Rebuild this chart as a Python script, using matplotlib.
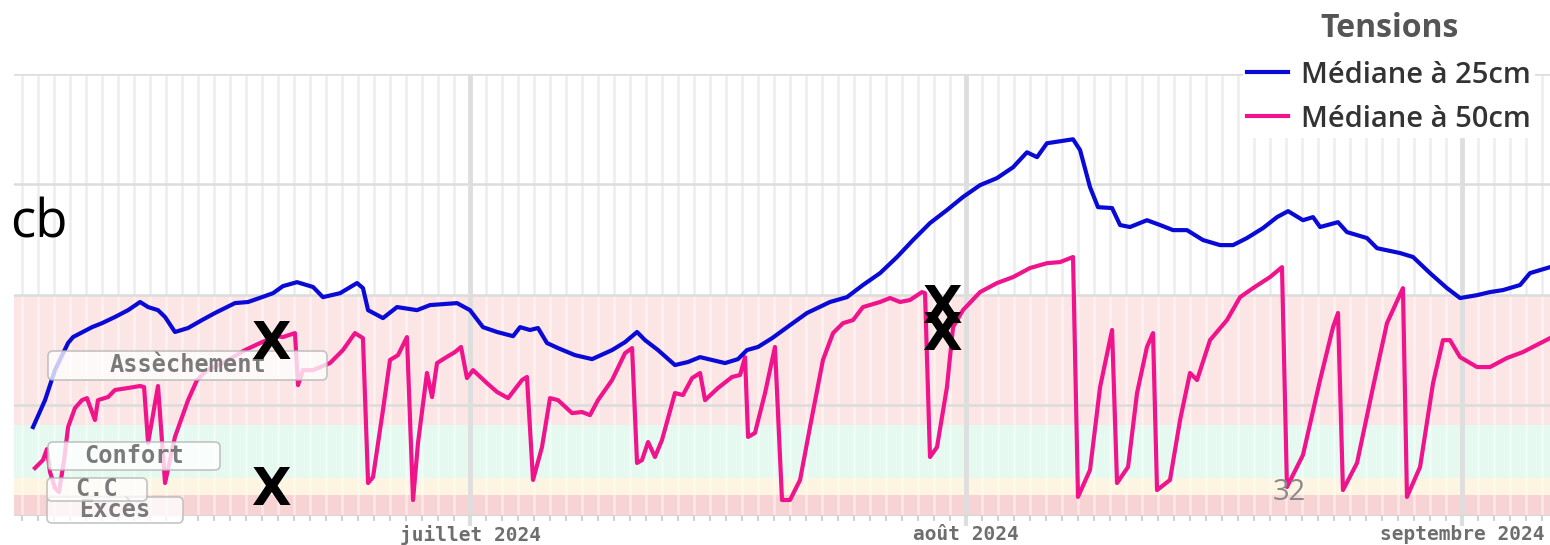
import pandas as pd
import matplotlib.pyplot as plt
import matplotlib.dates as mdates
from matplotlib.patches import FancyBboxPatch
from matplotlib.transforms import IdentityTransform

START = pd.Timestamp("2024-06-01")

# days since 1 June 2024 / tension (cb)
DAYS_25 = [2.69, 3.44, 4.06, 4.88, 5.19, 6.38, 7.0, 7.81, 8.63, 9.38,
           9.88, 10.5, 10.94, 11.56, 12.38, 13.25, 14.06, 15.31, 16.13, 17.0,
           17.69, 18.31, 19.19, 20.19, 20.81, 21.88, 22.94, 23.31, 23.63, 24.56,
           25.44, 26.69, 27.5, 29.19, 30.0, 30.81, 31.69, 32.69, 33.13, 33.75,
           34.25, 34.81, 35.5, 36.56, 37.63, 38.88, 39.69, 40.44, 40.94, 41.75,
           42.81, 43.63, 44.38, 45.13, 45.94, 46.75, 47.31, 48.0, 48.88, 50.0,
           51.06, 52.5, 53.56, 54.56, 55.63, 56.69, 57.69, 58.75, 59.81, 60.81,
           61.88, 62.94, 63.94, 64.81, 65.44, 66.06, 66.88, 67.69, 68.13, 68.75,
           69.25, 70.13, 70.63, 71.25, 72.31, 73.13, 73.94, 74.81, 75.81, 76.88,
           77.69, 78.56, 79.56, 80.44, 81.13, 82.06, 82.69, 83.13, 84.25, 84.81,
           86.06, 86.69, 88.13, 88.94, 90.0, 91.06, 91.88, 92.94, 93.75, 94.56,
           95.63, 96.25, 97.5]
TENSION_25 = [39.9, 52.1, 65.7, 78.0, 80.7, 85.2, 87.0, 89.8, 92.9, 96.6,
              94.3, 92.9, 89.8, 83.0, 84.8, 88.4, 91.6, 96.1, 96.6, 98.8,
              100.6, 103.8, 105.6, 103.4, 98.8, 100.6, 105.2, 102.9, 92.9, 89.3,
              94.3, 92.9, 95.2, 96.1, 92.9, 85.2, 83.0, 81.1, 85.2, 83.9,
              84.8, 78.0, 75.7, 72.5, 70.7, 74.8, 78.4, 83.0, 79.3, 74.8,
              68.0, 69.4, 71.6, 70.3, 68.9, 70.7, 74.8, 76.2, 80.2, 86.1,
              91.6, 96.6, 98.8, 104.3, 109.7, 117.0, 124.7, 132.4, 138.3, 144.2,
              149.6, 152.8, 157.7, 164.5, 162.3, 168.6, 169.5, 170.4, 165.5, 148.7,
              139.6, 139.2, 131.5, 130.6, 133.7, 131.5, 129.2, 129.2, 124.7, 122.4,
              122.4, 125.6, 130.1, 135.1, 137.8, 133.7, 135.1, 130.6, 132.8, 128.3,
              125.6, 121.0, 118.8, 117.0, 109.7, 102.9, 98.4, 99.7, 101.1, 102.0,
              104.3, 109.7, 112.4]

DAYS_50 = [2.81, 3.31, 3.56, 3.75, 4.06, 4.31, 4.63, 4.88, 5.31, 5.75,
           6.06, 6.56, 6.75, 7.38, 7.81, 8.63, 9.38, 9.63, 9.88, 10.5,
           10.94, 11.56, 12.38, 12.94, 13.56, 14.69, 15.94, 17.0, 17.94, 18.31,
           19.06, 19.25, 19.56, 20.19, 21.25, 22.06, 22.81, 23.31, 23.63, 23.94,
           24.56, 25.0, 25.5, 26.06, 26.44, 26.75, 27.31, 27.63, 27.94, 28.44,
           29.06, 29.44, 29.81, 30.19, 31.06, 31.69, 32.38, 33.25, 33.56, 33.94,
           34.5, 35.0, 35.5, 36.38, 37.0, 37.5, 38.0, 38.88, 39.69, 40.13,
           40.44, 40.75, 41.13, 41.56, 42.0, 42.81, 43.31, 43.88, 44.38, 44.69,
           45.5, 46.38, 46.88, 47.19, 47.38, 47.81, 48.44, 49.06, 49.5, 50.0,
           50.63, 51.25, 52.06, 52.69, 53.31, 53.94, 54.56, 55.63, 56.25, 56.88,
           57.5, 58.25, 58.44, 58.75, 59.19, 59.81, 60.19, 60.81, 61.88, 62.94,
           63.94, 65.0, 66.06, 66.88, 67.69, 68.0, 68.75, 69.38, 70.13, 70.44,
           71.13, 71.69, 72.31, 72.69, 72.94, 73.75, 74.38, 75.0, 75.44, 76.25,
           77.31, 78.13, 78.94, 80.0, 80.75, 81.06, 82.06, 83.13, 83.94, 84.25,
           84.56, 85.44, 86.44, 87.31, 88.31, 88.56, 89.38, 90.19, 90.81, 91.25,
           91.88, 92.94, 93.75, 94.81, 95.81, 97.5]
TENSION_50 = [21.3, 24.9, 29.9, 19.5, 12.2, 10.4, 24.9, 39.9, 48.5, 52.1,
              53.0, 43.1, 52.1, 53.5, 56.7, 57.6, 58.5, 58.0, 32.6, 58.5,
              14.5, 35.4, 52.1, 61.2, 65.7, 69.4, 74.8, 78.4, 81.1, 80.7,
              82.5, 58.9, 65.7, 65.7, 68.9, 74.8, 82.5, 80.2, 14.5, 17.2,
              47.6, 70.3, 72.5, 80.7, 6.8, 32.6, 64.4, 53.5, 68.9, 71.2,
              73.9, 76.2, 62.1, 65.7, 59.8, 55.8, 53.0, 61.2, 62.6, 15.9,
              30.8, 53.0, 52.1, 46.2, 46.7, 45.3, 52.1, 61.2, 73.4, 75.7,
              23.6, 24.9, 33.1, 26.3, 34.0, 55.3, 54.4, 62.1, 64.4, 52.1,
              57.6, 62.6, 63.5, 71.6, 35.4, 37.2, 55.3, 76.2, 6.8, 6.8,
              15.9, 39.9, 70.3, 82.5, 87.0, 88.4, 94.3, 96.6, 98.4, 96.6,
              97.5, 101.1, 100.6, 26.3, 30.8, 58.0, 85.2, 92.9, 101.1, 105.2,
              107.9, 112.0, 114.2, 114.7, 117.0, 8.2, 20.4, 58.0, 83.9, 14.5,
              21.8, 55.3, 76.2, 82.5, 11.3, 15.9, 43.1, 64.4, 61.2, 79.3,
              88.4, 98.8, 102.9, 107.9, 112.4, 12.7, 27.2, 61.2, 85.2, 91.6,
              11.3, 23.6, 58.0, 87.0, 102.9, 8.2, 21.8, 59.8, 79.3, 79.3,
              71.6, 67.1, 67.1, 71.2, 73.9, 80.2]

SERIES_LABELS = ["Médiane à 25cm", "Médiane à 50cm"]
ZONE_NAMES = ["Excès", "C.C", "Confort", "Assèchement"]
ZONE_LIMITS = [0, 9, 17, 41, 100]
MONTH_TICKS = ["2024-07-01", "2024-08-01", "2024-09-01"]
MONTH_LABELS = ["juillet 2024", "août 2024", "septembre 2024"]

ZONE_COLORS = ["#f8d3d4", "#fdf5e2", "#e5f9f0", "#fce5e5"]
BLUE = "#0a0ad6"
PINK = "#f0148c"


def to_dates(days):
    return START + pd.to_timedelta(days, unit="D")


W, H = 1550, 545
fig = plt.figure(figsize=(W / 100, H / 100), dpi=100)
ax = fig.add_axes([14 / W, 30 / H, 1 - 14 / W, 441 / H])

# background zones and grid
for lo, hi, c in zip(ZONE_LIMITS[:-1], ZONE_LIMITS[1:], ZONE_COLORS):
    ax.axhspan(lo, hi, color=c, lw=0, zorder=1)

days = pd.date_range("2024-06-01", "2024-09-08", freq="D")
ax.vlines(days, 100, 200, color="#ededed", lw=1.8, zorder=0.5)
ax.vlines(days, 0, 100, color="white", lw=1.8, alpha=0.5, zorder=1.5)
for y in [50, 100, 150, 200]:
    ax.axhline(y, color="#dcdcdc", lw=1.8, zorder=1.6)
months = pd.to_datetime(MONTH_TICKS)
ax.vlines(months, 0, 200, color="#dedede", lw=3.5, zorder=1.7)

l25, = ax.plot(to_dates(DAYS_25), TENSION_25, color=BLUE, lw=3,
               solid_joinstyle="round", zorder=5)
l50, = ax.plot(to_dates(DAYS_50), TENSION_50, color=PINK, lw=3,
               solid_joinstyle="round", zorder=4)

ax.set_xlim(to_dates(1.5), to_dates(97.5))
ax.set_ylim(0, 200)
ax.set_yticks([])
ax.set_xticks(months)
ax.set_xticklabels(MONTH_LABELS, fontfamily="DejaVu Sans Mono",
                   fontweight="bold", fontsize=14, color="#6e6e6e")
ax.xaxis.set_minor_locator(mdates.DayLocator())
ax.tick_params(axis="x", which="major", length=8, width=3, color="#dedede", pad=-1)
ax.tick_params(axis="x", which="minor", length=4, width=1.2, color="#c8c8c8")
for s in ["top", "right", "left"]:
    ax.spines[s].set_visible(False)
ax.spines["bottom"].set_color("#d8d8d8")

# zone labels: rounded boxes (pixel extents) with the name centred inside
label_boxes = [(47, 497, 136, 26), (47, 478, 100, 23), (48, 442, 172, 28), (48, 351, 279, 29)]
label_z = [6, 7, 7, 7]
for name, (bx, by, bw, bh), z in zip(ZONE_NAMES, label_boxes, label_z):
    box = FancyBboxPatch((bx, H - by - bh), bw, bh,
                         boxstyle="round,pad=0,rounding_size=5",
                         transform=IdentityTransform(), fc="white",
                         ec="#b4b4b4", lw=1.2, alpha=0.78, zorder=z, clip_on=False)
    ax.add_artist(box)
    ax.text((bx + bw / 2) / W, 1 - (by + bh / 2) / H, name, transform=fig.transFigure,
            ha="center", va="center", fontfamily="DejaVu Sans Mono",
            fontweight="bold", fontsize=17, color="#7a7a7a", zorder=z + 0.1)

leg = ax.legend([l25, l50], SERIES_LABELS, title="Tensions",
                loc="upper left", bbox_to_anchor=(1243 / W, 1 - 8 / H),
                bbox_transform=fig.transFigure,
                prop={"family": "Open Sans", "weight": "semibold", "size": 21},
                title_fontproperties={"family": "Open Sans", "weight": "bold", "size": 23},
                frameon=True, facecolor="white", edgecolor="none", framealpha=1,
                fancybox=False, borderpad=0.15, handlelength=1.4,
                handletextpad=0.45, labelspacing=0.52, borderaxespad=0)
leg.get_title().set_color("#555555")
for t in leg.get_texts():
    t.set_color("#333333")
leg.set_zorder(10)

# hand-written marks on the screenshot
fig.text(10 / W, 1 - 238 / H, "cb", fontsize=38, fontfamily="Open Sans",
         va="baseline", ha="left")
x_marks = [(271, 359), (271, 505), (942, 323), (942, 350)]
for px, py in x_marks:
    fig.text(px / W, 1 - py / H, "X", fontsize=37, fontweight="bold",
             fontfamily=["Liberation Sans Narrow", "DejaVu Sans"],
             ha="center", va="baseline", zorder=12)
fig.text(1289 / W, 1 - 500 / H, "32", fontsize=21, fontfamily="Open Sans",
         color="#8a8a8a", ha="center", va="baseline", zorder=12)

fig.savefig("out.png", dpi=100, facecolor="white")
